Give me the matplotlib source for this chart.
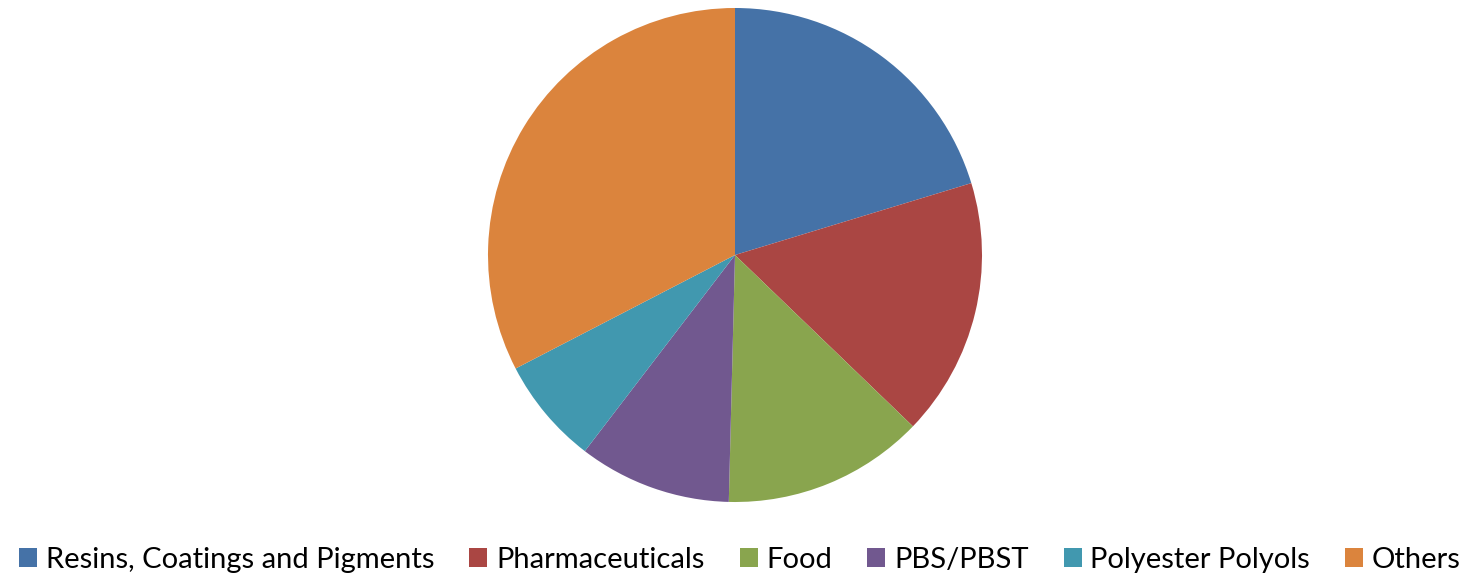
import matplotlib.pyplot as plt

labels = ["Resins, Coatings and Pigments", "Pharmaceuticals", "Food",
          "PBS/PBST", "Polyester Polyols", "Others"]
shares = [20.3, 16.9, 13.2, 10.0, 7.0, 32.6]
colors = ["#4572A7", "#AA4643", "#89A54E", "#71588F", "#4198AF", "#DB843D"]

plt.rcParams["font.family"] = ["Lato", "DejaVu Sans"]

W, H = 1480, 575
fig = plt.figure(figsize=(W / 100, H / 100), dpi=100)

cx, cy, r = 735, 255, 247
ax = fig.add_axes([(cx - r) / W, (H - cy - r) / H, 2 * r / W, 2 * r / H])
wedges, _ = ax.pie(shares, colors=colors, startangle=90, counterclock=False,
                   radius=1, wedgeprops={"linewidth": 0})
ax.set_xlim(-1, 1)
ax.set_ylim(-1, 1)
ax.set_aspect("equal")
ax.axis("off")

fig.legend(wedges, labels, loc="lower center", bbox_to_anchor=(0.5, -0.042),
           ncol=6, frameon=False, fontsize=21, handlelength=0.62,
           handleheight=0.62, handletextpad=0.3, columnspacing=1.2)

fig.savefig("out.png", dpi=100)
